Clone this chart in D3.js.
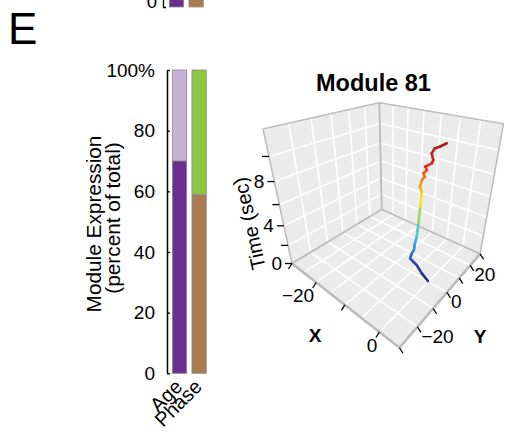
<!DOCTYPE html>
<html>
<head>
<meta charset="utf-8">
<script src="https://cdn.jsdelivr.net/npm/d3@7"></script>
<style>
  html, body { margin: 0; padding: 0; background: #fff; }
  svg { display: block; font-family: "Liberation Sans", Arial, sans-serif; }
</style>
</head>
<body>
<svg id="chart" width="506" height="434"></svg>
<script>
// --------------------------------------
// data
// --------------------------------------
const barCategories = ["Age", "Phase"];
const lowerShare = [70, 59]; // dark part of each bar, percent
const upperShare = [30, 41];
const barTicks = [0, 20, 40, 60, 80, 100];

// bottom of the panel above, mostly cut off
const prevCategories = ["Age", "Phase"];
const prevValues = [100, 100];

// module 81 trajectory
const timeSec = [0, 0.64, 1.33, 1.61, 1.9, 2.31, 2.59, 3.15, 3.7, 4.82, 6.21, 7.46,
  7.88, 8.43, 8.71, 8.99, 9.27, 9.55, 9.83, 10.11, 10.66, 11.09, 11.21, 11.5];
const posX = [-0.2, -1.7, -3.0, -3.8, -4.5, -4.4, -4.2, -4.3, -4.2, -4.4, -4.5, -4.5,
  -4.8, -4.5, -4.0, -4.2, -3.6, -3.8, -2.7, -2.4, -2.4, -1.7, -0.9, 0.3];
const posY = [0.2, -0.7, -1.3, -1.9, -2.4, -1.6, -0.7, 0.0, 0.9, 2.1, 3.1, 3.5,
  3.0, 3.2, 3.8, 3.2, 3.8, 3.1, 4.3, 4.2, 2.9, 2.7, 3.4, 4.1];

const xTicks = [-30, -20, -10, 0];
const xLabels = [-20, 0];
const xGrid = [-30, -25, -20, -15, -10, -5, 0, 5];
const yTicks = [-30, -20, -10, 0, 10, 20, 30];
const yLabels = [-20, 0, 20];
const zTicks = [0, 2, 4, 6, 8, 10];
const zLabels = [0, 4, 8];
const zGrid = [0, 2, 4, 6, 8, 10, 12];

const svg = d3.select("#chart");

// panel letter
svg.append("text")
  .attr("x", 8).attr("y", 43.5)
  .style("font-size", "44px")
  .text("E");

// --------------------------------------
// cut-off bars of the panel above
// --------------------------------------
const prevX = d3.scaleBand().domain(prevCategories).range([166.9, 205.7])
  .paddingInner(0.27).paddingOuter(0.125);
const prevYs = d3.scaleLinear().domain([0, 100]).range([7, -296]);
svg.append("g").selectAll("rect").data(prevValues).enter().append("rect")
  .attr("x", (d, i) => prevX(prevCategories[i]))
  .attr("y", (d) => prevYs(d))
  .attr("width", prevX.bandwidth())
  .attr("height", (d) => prevYs(0) - prevYs(d))
  .attr("fill", (d, i) => (i === 0 ? "#6b2d90" : "#a97b52"))
  .attr("stroke", "#8a8a8a").attr("stroke-width", 0.8);
svg.append("path")
  .attr("d", "M163.5,-5V7.5H166")
  .attr("fill", "none").attr("stroke", "#000").attr("stroke-width", 1.3);
svg.append("text")
  .attr("x", 157).attr("y", 8.3)
  .attr("text-anchor", "end")
  .style("font-size", "18.5px")
  .text("0");

// --------------------------------------
// stacked percent bars
// --------------------------------------
const xBar = d3.scaleBand().domain(barCategories).range([169.9, 208.7])
  .paddingInner(0.27).paddingOuter(0.125);
const yBar = d3.scaleLinear().domain([0, 100]).range([373.3, 70]);

const lowerColors = ["#6b2d90", "#a97b52"];
const upperColors = ["#c7b1d7", "#8dc63f"];

const bars = svg.append("g");
barCategories.forEach((c, i) => {
  bars.append("rect")
    .attr("x", xBar(c)).attr("y", yBar(lowerShare[i]))
    .attr("width", xBar.bandwidth())
    .attr("height", yBar(0) - yBar(lowerShare[i]))
    .attr("fill", lowerColors[i]);
  bars.append("rect")
    .attr("x", xBar(c)).attr("y", yBar(lowerShare[i] + upperShare[i]))
    .attr("width", xBar.bandwidth())
    .attr("height", yBar(lowerShare[i]) - yBar(lowerShare[i] + upperShare[i]))
    .attr("fill", upperColors[i]);
  bars.append("line")
    .attr("x1", xBar(c)).attr("x2", xBar(c) + xBar.bandwidth())
    .attr("y1", yBar(lowerShare[i])).attr("y2", yBar(lowerShare[i]))
    .attr("stroke", "#8a8a8a").attr("stroke-width", 0.8);
  bars.append("rect")
    .attr("x", xBar(c)).attr("y", yBar(100))
    .attr("width", xBar.bandwidth())
    .attr("height", yBar(0) - yBar(100))
    .attr("fill", "none").attr("stroke", "#8a8a8a").attr("stroke-width", 0.8);
});

const yAxis = svg.append("g")
  .attr("transform", "translate(167,0)")
  .call(d3.axisLeft(yBar).tickValues(barTicks)
    .tickFormat((d) => (d === 100 ? "100%" : d))
    .tickSizeInner(-3).tickSizeOuter(0).tickPadding(12));
yAxis.select(".domain").attr("stroke-width", 1.5);
yAxis.selectAll("line").attr("stroke-width", 1.3);
yAxis.selectAll("text")
  .attr("font-family", "Liberation Sans, Arial, sans-serif")
  .style("font-size", "19px").attr("fill", "#000");

// category labels
svg.append("g").selectAll("text").data(barCategories).enter().append("text")
  .attr("text-anchor", "end")
  .attr("transform", (d) => "translate(" + (xBar(d) + xBar.bandwidth() / 2 + 4) + ",388)rotate(-45)")
  .style("font-size", "20px")
  .text((d) => d);

// y title
svg.append("text")
  .attr("text-anchor", "middle")
  .attr("transform", "translate(100.5,224)rotate(-90)")
  .style("font-size", "20.8px")
  .text("Module Expression");
svg.append("text")
  .attr("text-anchor", "middle")
  .attr("transform", "translate(119.5,218)rotate(-90)")
  .style("font-size", "20.8px")
  .text("(percent of total)");

// --------------------------------------
// 3D trajectory
// --------------------------------------
const xS = d3.scaleLinear().domain([-30, 5]).range([0, 1]);
const yS = d3.scaleLinear().domain([-30, 30]).range([0, 1]);
const zS = d3.scaleLinear().domain([0, 12]).range([0, 1]);

// where the box corners sit on the page, used to fit a perspective camera
const boxAnchors = [
  { at: [-30, -30, 0], px: [292, 264] },
  { at: [5, -30, 0], px: [400, 347] },
  { at: [5, 30, 0], px: [480, 255] },
  { at: [-30, 30, 0], px: [381.5, 208.5] },
  { at: [-30, -30, 12], px: [262.5, 129] },
  { at: [-30, 30, 12], px: [380, 103.3] },
  { at: [5, 30, 12], px: [503, 123] },
];

// least squares fit of a 3x4 projection (last entry fixed to 1)
function fitCamera(anchors) {
  const rows = [];
  anchors.forEach((a) => {
    const u = xS(a.at[0]), v = yS(a.at[1]), w = zS(a.at[2]);
    const sx = a.px[0], sy = a.px[1];
    rows.push([u, v, w, 1, 0, 0, 0, 0, -sx * u, -sx * v, -sx * w, sx]);
    rows.push([0, 0, 0, 0, u, v, w, 1, -sy * u, -sy * v, -sy * w, sy]);
  });
  const n = 11;
  const M = d3.range(n).map((i) => d3.range(n + 1).map((j) => d3.sum(rows, (r) => r[i] * r[j])));
  for (let c = 0; c < n; c++) {
    let piv = c;
    for (let r = c + 1; r < n; r++) if (Math.abs(M[r][c]) > Math.abs(M[piv][c])) piv = r;
    const tmp = M[c]; M[c] = M[piv]; M[piv] = tmp;
    for (let r = 0; r < n; r++) {
      if (r === c) continue;
      const f = M[r][c] / M[c][c];
      for (let k = c; k <= n; k++) M[r][k] -= f * M[c][k];
    }
  }
  return M.map((row, i) => row[n] / row[i]);
}
const P = fitCamera(boxAnchors);

function project(x, y, z) {
  const u = xS(x), v = yS(y), w = zS(z);
  const d = P[8] * u + P[9] * v + P[10] * w + 1;
  return [(P[0] * u + P[1] * v + P[2] * w + P[3]) / d,
          (P[4] * u + P[5] * v + P[6] * w + P[7]) / d];
}

const g3 = svg.append("g");
const [x0, x1] = xS.domain(), [y0, y1] = yS.domain(), [z0, z1] = zS.domain();

// panes
const panes = [
  [[x0, y0, z0], [x1, y0, z0], [x1, y1, z0], [x0, y1, z0]], // floor
  [[x0, y0, z0], [x0, y1, z0], [x0, y1, z1], [x0, y0, z1]], // left wall
  [[x0, y1, z0], [x1, y1, z0], [x1, y1, z1], [x0, y1, z1]], // right wall
];
g3.selectAll("polygon").data(panes).enter().append("polygon")
  .attr("points", (d) => d.map((p) => project(...p).join(",")).join(" "))
  .attr("fill", "#ebebec").attr("stroke", "none");

// grid lines
const seg = (a, b) => ({ a: project(...a), b: project(...b) });
const grid = [];
xGrid.forEach((x) => {
  grid.push(seg([x, y0, z0], [x, y1, z0]));
  grid.push(seg([x, y1, z0], [x, y1, z1]));
});
yTicks.forEach((y) => {
  grid.push(seg([x0, y, z0], [x1, y, z0]));
  grid.push(seg([x0, y, z0], [x0, y, z1]));
});
zGrid.forEach((z) => {
  grid.push(seg([x0, y0, z], [x0, y1, z]));
  grid.push(seg([x0, y1, z], [x1, y1, z]));
});
g3.append("g").selectAll("line").data(grid).enter().append("line")
  .attr("x1", (d) => d.a[0]).attr("y1", (d) => d.a[1])
  .attr("x2", (d) => d.b[0]).attr("y2", (d) => d.b[1])
  .attr("stroke", "#fff").attr("stroke-width", 1.6);

// pane borders
g3.append("g").selectAll("polygon").data(panes).enter().append("polygon")
  .attr("points", (d) => d.map((p) => project(...p).join(",")).join(" "))
  .attr("fill", "none").attr("stroke", "#bcbcbc").attr("stroke-width", 1.6)
  .attr("stroke-linejoin", "round");
const frontEdges = [seg([x0, y0, z0], [x1, y0, z0]), seg([x1, y0, z0], [x1, y1, z0])];
g3.append("g").selectAll("line").data(frontEdges).enter().append("line")
  .attr("x1", (d) => d.a[0]).attr("y1", (d) => d.a[1])
  .attr("x2", (d) => d.b[0]).attr("y2", (d) => d.b[1])
  .attr("stroke", "#bcbcbc").attr("stroke-width", 2.6);

// ticks
const tickG = g3.append("g").attr("stroke", "#000").attr("stroke-width", 1.3);
zTicks.forEach((z) => {
  const p = project(x0, y0, z);
  tickG.append("line").attr("x1", p[0]).attr("y1", p[1]).attr("x2", p[0] - 7).attr("y2", p[1]);
});
xTicks.forEach((x) => {
  const p = project(x, y0, z0);
  tickG.append("line").attr("x1", p[0]).attr("y1", p[1]).attr("x2", p[0] - 3.5).attr("y2", p[1] + 5.5);
});
yTicks.forEach((y) => {
  const p = project(x1, y, z0);
  tickG.append("line").attr("x1", p[0]).attr("y1", p[1]).attr("x2", p[0] + 3.5).attr("y2", p[1] + 5.5);
});

const fmt = (d) => (d < 0 ? "\u2212" + Math.abs(d) : String(d));
const labelG = g3.append("g").style("font-size", "19px");
zLabels.forEach((z) => {
  const p = project(x0, y0, z);
  labelG.append("text").attr("x", p[0] - 10).attr("y", p[1]).attr("dy", "0.35em")
    .attr("text-anchor", "end").text(fmt(z));
});
xLabels.forEach((x) => {
  const p = project(x, y0, z0);
  labelG.append("text").attr("x", p[0] - 2).attr("y", p[1] + 20)
    .attr("text-anchor", "end").text(fmt(x));
});
yLabels.forEach((y) => {
  const p = project(x1, y, z0);
  labelG.append("text").attr("x", p[0] + 4).attr("y", p[1] + 16)
    .attr("text-anchor", "start").text(fmt(y));
});

// axis titles
svg.append("text")
  .attr("x", 315).attr("y", 342)
  .attr("text-anchor", "middle")
  .style("font-size", "19px").style("font-weight", "bold")
  .text("X");
svg.append("text")
  .attr("x", 480).attr("y", 343)
  .attr("text-anchor", "middle")
  .style("font-size", "19px").style("font-weight", "bold")
  .text("Y");
const zBottom = project(x0, y0, z0), zTop = project(x0, y0, z1);
const zAngle = Math.atan2(zTop[1] - zBottom[1], zTop[0] - zBottom[0]) * 180 / Math.PI;
svg.append("text")
  .attr("text-anchor", "middle")
  .attr("transform", "translate(256,222)rotate(" + zAngle + ")")
  .style("font-size", "20px")
  .text("Time (sec)");

// title
svg.append("text")
  .attr("x", 373.5).attr("y", 91)
  .attr("text-anchor", "middle")
  .style("font-size", "23.5px").style("font-weight", "bold")
  .text("Module 81");

// trajectory coloured by time
const timeColor = d3.scaleLinear()
  .domain([0, 0.14, 0.34, 0.48, 0.6, 0.72, 0.84, 1].map((f) => f * d3.max(timeSec)))
  .range(["#1b2a82", "#2b46b0", "#3cc4ec", "#9bd85a", "#f2e41e", "#f7931e", "#e8251f", "#a21d1f"]);

const pts = timeSec.map((t, i) => ({ t, p: project(posX[i], posY[i], t) }));
g3.append("g").selectAll("line").data(d3.pairs(pts)).enter().append("line")
  .attr("x1", (d) => d[0].p[0]).attr("y1", (d) => d[0].p[1])
  .attr("x2", (d) => d[1].p[0]).attr("y2", (d) => d[1].p[1])
  .attr("stroke", (d) => timeColor((d[0].t + d[1].t) / 2))
  .attr("stroke-width", 2.6).attr("stroke-linecap", "round");
</script>
</body>
</html>
